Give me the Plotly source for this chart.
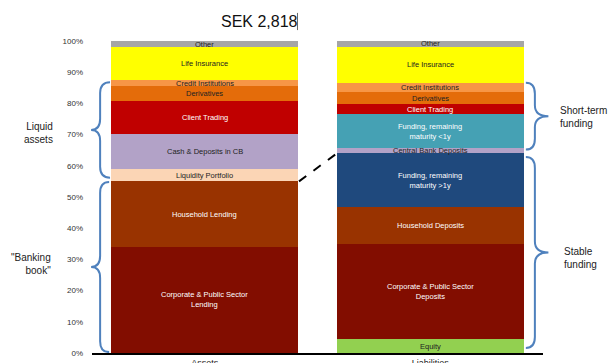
import plotly.graph_objects as go

# Balance sheet composition, % of total (SEK 2,818bn)
categories = ["Assets", "Liabilities"]

asset_labels = ["Corporate & Public Sector<br>Lending", "Household Lending", "Liquidity Portfolio",
                "Cash & Deposits in CB", "Client Trading", "Derivatives",
                "Credit Institutions", "Life Insurance", "Other"]
asset_values = [34.0, 21.0, 4.0, 11.1, 10.6, 4.8, 1.9, 10.6, 2.0]
asset_colors = ["#820D00", "#993300", "#FBD5B5", "#B2A2C7", "#C00000", "#E46C0A",
                "#F79646", "#FFFF00", "#A6A6A6"]
asset_text = ["white", "white", "#222222", "#222222", "white", "#222222",
              "#222222", "#222222", "#222222"]

liab_labels = ["Equity", "Corporate & Public Sector<br>Deposits", "Household Deposits",
               "Funding, remaining<br>maturity >1y", "Central Bank Deposits",
               "Funding, remaining<br>maturity &lt;1y", "Client Trading", "Derivatives",
               "Credit Institutions", "Life Insurance", "Other"]
liab_values = [4.4, 30.6, 11.7, 17.3, 1.7, 10.9, 3.1, 4.0, 2.9, 11.5, 1.9]
liab_colors = ["#92D050", "#820D00", "#993300", "#1F497D", "#B2A2C7", "#45A1B4",
               "#C00000", "#E46C0A", "#F79646", "#FFFF00", "#A6A6A6"]
liab_text = ["#222222", "white", "white", "white", "#222222", "white",
             "white", "#222222", "#222222", "#222222", "#222222"]

tick_vals = list(range(0, 101, 10))
tick_text = [f"{v}%" for v in tick_vals]

fig = go.Figure()
annotations = []

def add_column(cat, labels, values, colors, text_colors):
    base = 0.0
    for lab, val, col, tc in zip(labels, values, colors, text_colors):
        fig.add_trace(go.Bar(x=[cat], y=[val], marker=dict(color=col, line=dict(width=0)),
                             name=lab, showlegend=False, hoverinfo="skip"))
        annotations.append(dict(x=cat, y=base + val / 2, xref="x", yref="y", text=lab,
                                showarrow=False, font=dict(size=7.5, color=tc,
                                                           family="Liberation Sans, Arial"),
                                yanchor="middle", xanchor="center"))
        base += val

add_column("Assets", asset_labels, asset_values, asset_colors, asset_text)
add_column("Liabilities", liab_labels, liab_values, liab_colors, liab_text)

BRACE = "#4F81BD"

def brace(x_end, x_spine, x_tip, y0, y1, r):
    ym = (y0 + y1) / 2
    return (f"M {x_end},{y1} Q {x_spine},{y1} {x_spine},{y1 - r} "
            f"L {x_spine},{ym + r} Q {x_spine},{ym} {x_tip},{ym} "
            f"Q {x_spine},{ym} {x_spine},{ym - r} "
            f"L {x_spine},{y0 + r} Q {x_spine},{y0} {x_end},{y0}")

shapes = [
    # left braces
    dict(type="path", xref="paper", yref="y", path=brace(0.04, 0.018, -0.002, 56.2, 86.8, 3.5),
         line=dict(color=BRACE, width=2)),
    dict(type="path", xref="paper", yref="y", path=brace(0.038, 0.018, -0.002, 0.3, 54.8, 3.5),
         line=dict(color=BRACE, width=2)),
    # right braces
    dict(type="path", xref="paper", yref="y", path=brace(0.962, 0.982, 1.012, 65.2, 86.6, 3.5),
         line=dict(color=BRACE, width=2)),
    dict(type="path", xref="paper", yref="y", path=brace(0.962, 0.982, 1.012, 1.6, 62.8, 3.5),
         line=dict(color=BRACE, width=2)),
    # dashed link between the liquidity reserve and stable funding
    dict(type="line", xref="x", yref="y", x0=0.418, y0=sum(asset_values[:2]),
         x1=0.586, y1=sum(liab_values[:4]), line=dict(color="black", width=2, dash="dash")),
    # clipped unit marker after the title
    dict(type="line", xref="paper", yref="paper", x0=0.4556, x1=0.4556, y0=1.035, y1=1.09,
         line=dict(color="#666666", width=1)),
]

side_font = dict(size=10, color="#222222", family="Liberation Sans, Arial")
annotations += [
    dict(x=-0.083, y=70.5, xref="paper", yref="y", text="Liquid<br>assets", showarrow=False,
         xanchor="right", yanchor="middle", align="right", font=side_font),
    dict(x=-0.087, y=28.5, xref="paper", yref="y", text="\"Banking<br>book\"", showarrow=False,
         xanchor="right", yanchor="middle", align="right", font=side_font),
    dict(x=1.033, y=75.5, xref="paper", yref="y", text="Short-term<br>funding", showarrow=False,
         xanchor="left", yanchor="middle", align="left", font=side_font),
    dict(x=1.042, y=30.5, xref="paper", yref="y", text="Stable<br>funding", showarrow=False,
         xanchor="left", yanchor="middle", align="left", font=side_font),
    dict(x=0.371, y=1.062, xref="paper", yref="paper", text="SEK 2,818", showarrow=False,
         xanchor="center", yanchor="middle",
         font=dict(size=16, color="#111111", family="Liberation Sans, Arial")),
]

fig.update_layout(
    width=611, height=363,
    margin=dict(l=92, r=68, t=41, b=10),
    barmode="stack", bargap=0.17,
    plot_bgcolor="white", paper_bgcolor="white",
    shapes=shapes, annotations=annotations,
    xaxis=dict(range=[-0.5, 1.5], showline=True, linecolor="black", linewidth=2,
               showgrid=False, zeroline=False, automargin=False, ticks="",
               tickfont=dict(size=9, color="#222222", family="Liberation Sans, Arial")),
    yaxis=dict(range=[0, 100], tickvals=tick_vals, ticktext=tick_text, showgrid=False,
               zeroline=False, showline=False, automargin=False, ticklabelstandoff=8,
               tickfont=dict(size=8, color="#333333", family="Liberation Sans, Arial")),
)

fig.write_html("out.html")
